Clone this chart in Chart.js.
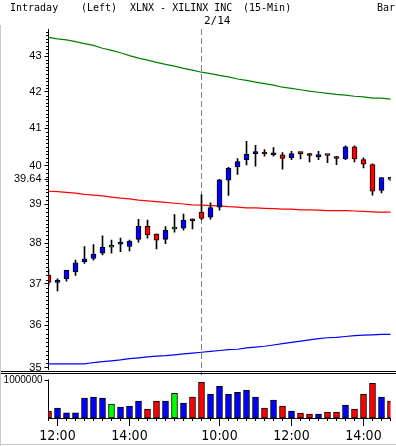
<!DOCTYPE html>
<html><head><meta charset="utf-8">
<script src="https://cdn.jsdelivr.net/npm/chart.js@4.4.1/dist/chart.umd.min.js"></script>
<style>
html,body{margin:0;padding:0;background:#fff;}
#wrap{position:relative;width:396px;height:446px;overflow:hidden;background:#fff;}
#c{position:absolute;left:0;top:0;}
.t{position:absolute;font-family:'DejaVu Sans Mono',monospace;font-size:10px;line-height:12px;color:#000;white-space:pre;}
#lb{position:absolute;left:0;top:25px;width:1px;height:421px;background:#c8c8c8;}
#bb{position:absolute;left:0;top:444px;width:396px;height:1px;background:#c8c8c8;}
</style></head><body>
<div id="wrap">
<canvas id="c" width="396" height="446"></canvas>
<div id="lb"></div><div id="bb"></div>
<div class="t" style="left:10px;top:2px">Intraday</div>
<div class="t" style="left:81px;top:2px">(Left)</div>
<div class="t" style="left:130px;top:2px">XLNX - XILINX INC</div>
<div class="t" style="left:243px;top:2px">(15-Min)</div>
<div class="t" style="left:377px;top:2px">Bar</div>
<div class="t" style="left:204px;top:15px;font-size:11px">2/14</div>
</div>
<script>
const categories = ['11:45','12:00','12:15','12:30','12:45','13:00','13:15','13:30','13:45','14:00','14:15','14:30','14:45','15:00','15:15','15:30','15:45',
  '09:30','09:45','10:00','10:15','10:30','10:45','11:00','11:15','11:30','11:45','12:00','12:15','12:30','12:45','13:00','13:15','13:30','13:45','14:00','14:15','14:30','14:45'];
const openP  = [37.21,37.03,37.12,37.29,37.54,37.62,37.75,37.90,37.98,37.92,38.10,38.43,38.23,38.10,38.36,38.38,38.60,
  38.79,38.66,38.92,39.62,39.97,40.16,40.32,40.35,40.29,40.29,40.21,40.34,40.31,40.24,40.29,40.22,40.18,40.50,40.16,40.03,39.35,39.69];
const highP  = [37.35,37.12,37.33,37.58,37.92,37.97,38.19,38.08,38.13,38.08,38.61,38.59,38.24,38.42,38.73,38.74,38.62,
  39.24,39.03,39.64,39.96,40.19,40.65,40.54,40.43,40.48,40.35,40.38,40.36,40.33,40.38,40.29,40.25,40.53,40.53,40.21,40.05,39.69,39.70];
const lowP   = [36.95,36.82,37.06,37.20,37.50,37.58,37.71,37.75,37.79,37.81,38.03,38.13,37.86,37.99,38.28,38.33,38.36,
  38.60,38.61,38.84,39.22,39.77,40.02,39.99,40.25,40.25,39.91,40.16,40.18,40.10,40.16,40.08,40.03,40.16,40.10,39.94,39.23,39.29,39.60];
const closeP = [37.03,37.05,37.33,37.51,37.61,37.73,37.90,37.90,38.00,38.05,38.43,38.21,38.08,38.33,38.36,38.59,38.57,
  38.63,38.91,39.63,39.93,40.11,40.30,40.34,40.31,40.30,40.19,40.32,40.32,40.27,40.26,40.27,40.19,40.50,40.18,40.04,39.33,39.69,39.64];
const volumes = [183000,261000,139000,139000,522000,548000,522000,365000,287000,313000,443000,235000,443000,443000,652000,391000,548000,
  939000,626000,835000,626000,678000,730000,548000,261000,470000,313000,183000,130000,104000,104000,157000,157000,339000,235000,626000,913000,548000,443000];
const upperBand = [43.54,43.50,43.47,43.42,43.36,43.31,43.23,43.17,43.10,43.02,42.95,42.89,42.83,42.77,42.72,42.66,42.61,
  42.55,42.51,42.46,42.42,42.36,42.32,42.27,42.23,42.19,42.13,42.10,42.06,42.02,41.99,41.96,41.93,41.91,41.88,41.86,41.83,41.83,41.80];
const midLine = [39.33,39.32,39.30,39.28,39.25,39.23,39.21,39.18,39.15,39.13,39.10,39.08,39.06,39.04,39.02,39.00,38.98,
  38.97,38.96,38.95,38.93,38.92,38.90,38.90,38.89,38.88,38.87,38.87,38.85,38.85,38.84,38.83,38.83,38.83,38.82,38.81,38.80,38.79,38.79];
const lowerBand = [35.09,35.09,35.09,35.09,35.09,35.12,35.14,35.16,35.18,35.21,35.23,35.25,35.27,35.28,35.30,35.32,35.34,
  35.36,35.38,35.40,35.42,35.43,35.46,35.48,35.50,35.53,35.56,35.59,35.62,35.65,35.68,35.70,35.71,35.73,35.75,35.76,35.77,35.78,35.78];
const priceTicks = [35,36,37,38,39,40,41,42,43];
const lastPrice = 39.64;
const volumeTicks = [1000000];
const labeledTimes = ['12:00','14:00','10:00'];
const sessionStartIndex = 17; // first bar of 2/14

const UP = '#0000ff', DOWN = '#ff0000', FLAT = '#00ff00';
const colorFor = i => closeP[i] > openP[i] ? UP : (closeP[i] < openP[i] ? DOWN : FLAT);
const tickFont = {family: "'Liberation Sans', Arial, sans-serif", size: 11};
const volFont = {family: "'Liberation Sans', Arial, sans-serif", size: 10};
const xFont = {family: "'Liberation Sans Narrow', 'DejaVu Sans Condensed', 'Liberation Sans', sans-serif", size: 14};

const decor = {
  id: 'decor',
  beforeDatasetsDraw(chart) {
    const ctx = chart.ctx, x = chart.scales.x.getPixelForValue(sessionStartIndex);
    const y = chart.scales.y;
    ctx.save();
    ctx.strokeStyle = '#808080'; ctx.lineWidth = 1; ctx.setLineDash([6, 3]);
    const px = Math.floor(x) + 0.5;
    ctx.beginPath(); ctx.moveTo(px, y.top); ctx.lineTo(px, y.bottom + 5); ctx.stroke();
    ctx.restore();
  },
  afterDraw(chart) {
    const ctx = chart.ctx, xs = chart.scales.x, ys = chart.scales.y, yv = chart.scales.yv;
    const axisX = Math.floor(chart.chartArea.left) + 0.5;
    ctx.save();
    ctx.strokeStyle = '#000'; ctx.lineWidth = 1;
    ctx.beginPath();
    for (let k = 350; k <= 437; k++) {
      if (k % 10 === 0) continue;
      const py = Math.round(ys.getPixelForValue(k / 10)) + 0.5;
      ctx.moveTo(axisX - 2.5, py); ctx.lineTo(axisX, py);
    }
    for (let i = 0; i < categories.length; i++) {
      if (labeledTimes.includes(categories[i])) continue;
      const px = Math.floor(xs.getPixelForTick(i)) + 0.5;
      ctx.moveTo(px, xs.top); ctx.lineTo(px, xs.top + 3);
    }
    ctx.stroke();
    ctx.fillStyle = '#fff';
    ctx.fillRect(axisX - 1.5, yv.top, 3, 9.5);
    ctx.beginPath();
    ctx.moveTo(0, ys.bottom + 1.5); ctx.lineTo(chart.width, ys.bottom + 1.5);
    ctx.moveTo(0, ys.bottom + 3.5); ctx.lineTo(chart.width, ys.bottom + 3.5);
    ctx.stroke();
    ctx.restore();
  }
};

new Chart(document.getElementById('c'), {
  type: 'bar',
  data: {
    labels: categories,
    datasets: [
      {type: 'line', data: upperBand, yAxisID: 'y', borderColor: '#008000', borderWidth: 1.2, pointRadius: 0, tension: 0, order: 5},
      {type: 'line', data: midLine, yAxisID: 'y', borderColor: '#ff0000', borderWidth: 1.2, pointRadius: 0, tension: 0, order: 5},
      {type: 'line', data: lowerBand, yAxisID: 'y', borderColor: '#0000ff', borderWidth: 1.2, pointRadius: 0, tension: 0, order: 5},
      {data: lowP.map((l, i) => [l, highP[i]]), yAxisID: 'y', backgroundColor: '#000', barThickness: 1, grouped: false, order: 3},
      {data: openP.map((o, i) => [o, closeP[i]]), yAxisID: 'y', backgroundColor: c => colorFor(c.dataIndex),
       borderColor: '#000', borderWidth: 1, borderSkipped: false, barThickness: 5, minBarLength: 2, grouped: false, order: 2},
      {data: volumes, yAxisID: 'yv', backgroundColor: c => colorFor(c.dataIndex),
       borderColor: '#000', borderWidth: 1, borderSkipped: false, barThickness: 6, grouped: false, order: 2}
    ]
  },
  options: {
    responsive: false, animation: false, devicePixelRatio: 1,
    layout: {padding: {top: 29, right: 5.5, left: 0, bottom: 0}},
    plugins: {legend: {display: false}, tooltip: {enabled: false}, title: {display: false}},
    scales: {
      x: {
        type: 'category', offset: false,
        grid: {offset: false, drawOnChartArea: false, drawTicks: true, tickLength: 8,
               tickColor: c => (c.tick && c.tick.label) ? '#000' : 'rgba(0,0,0,0)'},
        border: {display: true, color: '#000', width: 1},
        ticks: {autoSkip: false, maxRotation: 0, minRotation: 0, padding: 2, color: '#000', font: xFont,
                callback: (v, i) => labeledTimes.includes(categories[i]) ? categories[i] : ''},
        afterFit: s => { s.height = 28; }
      },
      yv: {
        type: 'linear', position: 'left', stack: 'panes', stackWeight: 48,
        min: 0, max: 1263158, bounds: 'data',
        afterBuildTicks: s => { s.ticks = volumeTicks.map(v => ({value: v})); },
        grid: {drawOnChartArea: false, drawTicks: true, tickLength: 4, tickColor: '#000'},
        border: {display: true, color: '#000', width: 1},
        ticks: {autoSkip: false, padding: 2, color: '#000', font: volFont, callback: v => String(v)},
        afterFit: s => { s.width = 48.5; }
      },
      y: {
        type: 'logarithmic', position: 'left', stack: 'panes', stackWeight: 341,
        min: 34.947, max: 43.783, bounds: 'data',
        afterBuildTicks: s => { s.ticks = priceTicks.concat([lastPrice]).sort((a, b) => a - b).map(v => ({value: v})); },
        grid: {drawOnChartArea: false, drawTicks: true, tickLength: 4, tickColor: '#000'},
        border: {display: true, color: '#000', width: 1},
        ticks: {autoSkip: false, padding: 3, color: '#000', font: tickFont,
                callback: v => v === lastPrice ? lastPrice.toFixed(2) : String(v)},
        afterFit: s => { s.width = 48.5; }
      }
    }
  },
  plugins: [decor]
});
</script>
</body></html>
